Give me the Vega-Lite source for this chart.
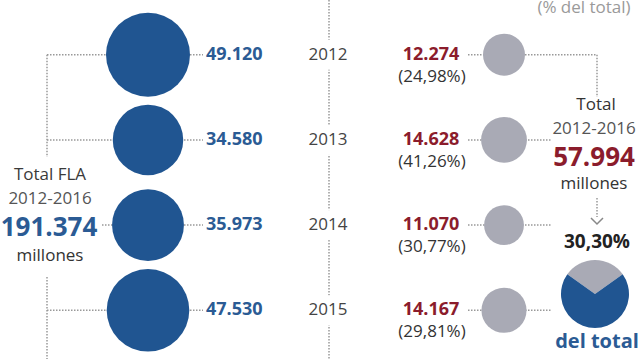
{
 "$schema": "https://vega.github.io/schema/vega-lite/v6.json",
 "width": 640, "height": 359, "padding": 0, "autosize": {"type": "none"},
 "background": "white",
 "config": {"view": {"stroke": null}, "axis": {"disable": true}, "legend": {"disable": true}, "text": {"font": "Open Sans"}},
 "data": {"values": [
  {"year": 2012, "fla": 49120, "parte": 12274, "pct": 24.98},
  {"year": 2013, "fla": 34580, "parte": 14628, "pct": 41.26},
  {"year": 2014, "fla": 35973, "parte": 11070, "pct": 30.77},
  {"year": 2015, "fla": 47530, "parte": 14167, "pct": 29.81}
 ]},
 "layer": [
  {"data": {"values": [{}]}, "mark": {"type": "rule", "color": "#999", "strokeWidth": 1.5, "strokeDash": [1.5, 1.5]},
   "encoding": {"x": {"datum": 329, "type": "quantitative", "scale": {"domain": [0, 640], "nice": false, "zero": false}},
    "y": {"datum": 2011.358, "type": "quantitative", "scale": {"domain": [2011.358, 2015.5716], "reverse": true, "nice": false, "zero": false}},
    "y2": {"datum": 2015.5716}}},
  {"mark": {"type": "point", "shape": "square", "filled": true, "color": "white", "opacity": 1, "size": 900},
   "encoding": {"x": {"datum": 329, "type": "quantitative", "scale": {"domain": [0, 640], "nice": false, "zero": false}},
    "y": {"field": "year", "type": "quantitative", "scale": {"domain": [2011.358, 2015.5716], "reverse": true, "nice": false, "zero": false}}}},
  {"mark": {"type": "text", "fontSize": 17, "color": "#444", "align": "center", "baseline": "middle"},
   "encoding": {"x": {"datum": 328, "type": "quantitative", "scale": {"domain": [0, 640], "nice": false, "zero": false}},
    "y": {"field": "year", "type": "quantitative", "scale": {"domain": [2011.358, 2015.5716], "reverse": true, "nice": false, "zero": false}},
    "text": {"field": "year", "type": "quantitative", "format": "d"}}},
  {"data": {"values": [{}]}, "mark": {"type": "rule", "color": "#999", "strokeWidth": 1.5, "strokeDash": [1.5, 1.5]},
   "encoding": {"x": {"datum": 47, "type": "quantitative", "scale": {"domain": [0, 640], "nice": false, "zero": false}},
    "y": {"datum": 2012, "type": "quantitative", "scale": {"domain": [2011.358, 2015.5716], "reverse": true, "nice": false, "zero": false}},
    "y2": {"datum": 2013.2007}}},
  {"data": {"values": [{}]}, "mark": {"type": "rule", "color": "#999", "strokeWidth": 1.5, "strokeDash": [1.5, 1.5]},
   "encoding": {"x": {"datum": 47, "type": "quantitative", "scale": {"domain": [0, 640], "nice": false, "zero": false}},
    "y": {"datum": 2014.6092, "type": "quantitative", "scale": {"domain": [2011.358, 2015.5716], "reverse": true, "nice": false, "zero": false}},
    "y2": {"datum": 2015.5716}}},
  {"transform": [{"filter": "datum.year != 2014"}], "mark": {"type": "rule", "color": "#999", "strokeWidth": 1.5, "strokeDash": [1.5, 1.5]},
   "encoding": {"x": {"datum": 47, "type": "quantitative", "scale": {"domain": [0, 640], "nice": false, "zero": false}}, "x2": {"datum": 148},
    "y": {"field": "year", "type": "quantitative", "scale": {"domain": [2011.358, 2015.5716], "reverse": true, "nice": false, "zero": false}}}},
  {"transform": [{"filter": "datum.year == 2014"}], "mark": {"type": "rule", "color": "#999", "strokeWidth": 1.5, "strokeDash": [1.5, 1.5]},
   "encoding": {"x": {"datum": 102, "type": "quantitative", "scale": {"domain": [0, 640], "nice": false, "zero": false}}, "x2": {"datum": 148},
    "y": {"field": "year", "type": "quantitative", "scale": {"domain": [2011.358, 2015.5716], "reverse": true, "nice": false, "zero": false}}}},
  {"mark": {"type": "rule", "color": "#999", "strokeWidth": 1.5, "strokeDash": [1.5, 1.5]},
   "encoding": {"x": {"datum": 148, "type": "quantitative", "scale": {"domain": [0, 640], "nice": false, "zero": false}}, "x2": {"datum": 203},
    "y": {"field": "year", "type": "quantitative", "scale": {"domain": [2011.358, 2015.5716], "reverse": true, "nice": false, "zero": false}}}},
  {"mark": {"type": "rule", "color": "#999", "strokeWidth": 1.5, "strokeDash": [1.5, 1.5]},
   "encoding": {"x": {"datum": 468, "type": "quantitative", "scale": {"domain": [0, 640], "nice": false, "zero": false}}, "x2": {"datum": 504},
    "y": {"field": "year", "type": "quantitative", "scale": {"domain": [2011.358, 2015.5716], "reverse": true, "nice": false, "zero": false}}}},
  {"transform": [{"filter": "datum.year == 2012"}], "mark": {"type": "rule", "color": "#999", "strokeWidth": 1.5, "strokeDash": [1.5, 1.5]},
   "encoding": {"x": {"datum": 504, "type": "quantitative", "scale": {"domain": [0, 640], "nice": false, "zero": false}}, "x2": {"datum": 597},
    "y": {"field": "year", "type": "quantitative", "scale": {"domain": [2011.358, 2015.5716], "reverse": true, "nice": false, "zero": false}}}},
  {"transform": [{"filter": "datum.year != 2012"}], "mark": {"type": "rule", "color": "#999", "strokeWidth": 1.5, "strokeDash": [1.5, 1.5]},
   "encoding": {"x": {"datum": 504, "type": "quantitative", "scale": {"domain": [0, 640], "nice": false, "zero": false}}, "x2": {"datum": 552},
    "y": {"field": "year", "type": "quantitative", "scale": {"domain": [2011.358, 2015.5716], "reverse": true, "nice": false, "zero": false}}}},
  {"data": {"values": [{}]}, "mark": {"type": "rule", "color": "#999", "strokeWidth": 1.5, "strokeDash": [1.5, 1.5]},
   "encoding": {"x": {"datum": 597, "type": "quantitative", "scale": {"domain": [0, 640], "nice": false, "zero": false}},
    "y": {"datum": 2012, "type": "quantitative", "scale": {"domain": [2011.358, 2015.5716], "reverse": true, "nice": false, "zero": false}},
    "y2": {"datum": 2012.4965}}},
  {"data": {"values": [{}]}, "mark": {"type": "rule", "color": "#999", "strokeWidth": 1.5, "strokeDash": [1.5, 1.5]},
   "encoding": {"x": {"datum": 597, "type": "quantitative", "scale": {"domain": [0, 640], "nice": false, "zero": false}},
    "y": {"datum": 2013.6819, "type": "quantitative", "scale": {"domain": [2011.358, 2015.5716], "reverse": true, "nice": false, "zero": false}},
    "y2": {"datum": 2013.9049}}},
  {"data": {"values": [{}]}, "mark": {"type": "point", "shape": "M-1,-0.5L0,0.5L1,-0.5", "filled": false, "color": "#888", "strokeWidth": 1.5, "size": 144, "opacity": 1},
   "encoding": {"x": {"datum": 597, "type": "quantitative", "scale": {"domain": [0, 640], "nice": false, "zero": false}},
    "y": {"datum": 2013.9519, "type": "quantitative", "scale": {"domain": [2011.358, 2015.5716], "reverse": true, "nice": false, "zero": false}}}},
  {"mark": {"type": "point", "filled": true, "color": "#205591", "opacity": 1},
   "encoding": {"x": {"datum": 148, "type": "quantitative", "scale": {"domain": [0, 640], "nice": false, "zero": false}},
    "y": {"field": "year", "type": "quantitative", "scale": {"domain": [2011.358, 2015.5716], "reverse": true, "nice": false, "zero": false}},
    "size": {"field": "fla", "type": "quantitative", "scale": {"domain": [0, 49120], "range": [0, 7056], "zero": true}, "legend": null}}},
  {"mark": {"type": "point", "filled": true, "color": "#a9aab5", "opacity": 1},
   "encoding": {"x": {"datum": 504, "type": "quantitative", "scale": {"domain": [0, 640], "nice": false, "zero": false}},
    "y": {"field": "year", "type": "quantitative", "scale": {"domain": [2011.358, 2015.5716], "reverse": true, "nice": false, "zero": false}},
    "size": {"field": "parte", "type": "quantitative", "scale": {"domain": [0, 49120], "range": [0, 7056], "zero": true}, "legend": null}}},
  {"transform": [{"calculate": "replace(format(datum.fla, ','), ',', '.')", "as": "flaLabel"}],
   "mark": {"type": "text", "fontSize": 18, "fontWeight": "bold", "color": "#2b5b94", "align": "left", "baseline": "middle"},
   "encoding": {"x": {"datum": 206, "type": "quantitative", "scale": {"domain": [0, 640], "nice": false, "zero": false}},
    "y": {"field": "year", "type": "quantitative", "scale": {"domain": [2011.358, 2015.5716], "reverse": true, "nice": false, "zero": false}},
    "text": {"field": "flaLabel", "type": "nominal"}}},
  {"transform": [{"calculate": "replace(format(datum.parte, ','), ',', '.')", "as": "parteLabel"}],
   "mark": {"type": "text", "fontSize": 18, "fontWeight": "bold", "color": "#8b1c2c", "align": "center", "baseline": "middle"},
   "encoding": {"x": {"datum": 431, "type": "quantitative", "scale": {"domain": [0, 640], "nice": false, "zero": false}},
    "y": {"field": "year", "type": "quantitative", "scale": {"domain": [2011.358, 2015.5716], "reverse": true, "nice": false, "zero": false}},
    "text": {"field": "parteLabel", "type": "nominal"}}},
  {"transform": [{"calculate": "'(' + replace(format(datum.pct, '.2f'), '.', ',') + '%)'", "as": "pctLabel"}],
   "mark": {"type": "text", "fontSize": 17, "color": "#333", "align": "center", "baseline": "middle", "dy": 22},
   "encoding": {"x": {"datum": 432, "type": "quantitative", "scale": {"domain": [0, 640], "nice": false, "zero": false}},
    "y": {"field": "year", "type": "quantitative", "scale": {"domain": [2011.358, 2015.5716], "reverse": true, "nice": false, "zero": false}},
    "text": {"field": "pctLabel", "type": "nominal"}}},
  {"data": {"values": [{}]}, "mark": {"type": "text", "text": "(% del total)", "fontSize": 17, "color": "#9a9a9a", "align": "center", "baseline": "middle"},
   "encoding": {"x": {"datum": 584, "type": "quantitative", "scale": {"domain": [0, 640], "nice": false, "zero": false}},
    "y": {"datum": 2011.4519, "type": "quantitative", "scale": {"domain": [2011.358, 2015.5716], "reverse": true, "nice": false, "zero": false}}}},
  {"data": {"values": [{}]}, "mark": {"type": "text", "text": "Total FLA", "fontSize": 17, "color": "#3a3a3a", "align": "center", "baseline": "middle"},
   "encoding": {"x": {"datum": 50, "type": "quantitative", "scale": {"domain": [0, 640], "nice": false, "zero": false}},
    "y": {"datum": 2013.412, "type": "quantitative", "scale": {"domain": [2011.358, 2015.5716], "reverse": true, "nice": false, "zero": false}}}},
  {"data": {"values": [{}]}, "mark": {"type": "text", "text": "2012-2016", "fontSize": 17, "color": "#555", "align": "center", "baseline": "middle"},
   "encoding": {"x": {"datum": 50, "type": "quantitative", "scale": {"domain": [0, 640], "nice": false, "zero": false}},
    "y": {"datum": 2013.6937, "type": "quantitative", "scale": {"domain": [2011.358, 2015.5716], "reverse": true, "nice": false, "zero": false}}}},
  {"data": {"values": [{}]}, "mark": {"type": "text", "text": "191.374", "fontSize": 26, "fontWeight": "bold", "color": "#2b5b94", "align": "center", "baseline": "middle"},
   "encoding": {"x": {"datum": 49, "type": "quantitative", "scale": {"domain": [0, 640], "nice": false, "zero": false}},
    "y": {"datum": 2014.0399, "type": "quantitative", "scale": {"domain": [2011.358, 2015.5716], "reverse": true, "nice": false, "zero": false}}}},
  {"data": {"values": [{}]}, "mark": {"type": "text", "text": "millones", "fontSize": 17, "color": "#333", "align": "center", "baseline": "middle"},
   "encoding": {"x": {"datum": 50, "type": "quantitative", "scale": {"domain": [0, 640], "nice": false, "zero": false}},
    "y": {"datum": 2014.3627, "type": "quantitative", "scale": {"domain": [2011.358, 2015.5716], "reverse": true, "nice": false, "zero": false}}}},
  {"data": {"values": [{}]}, "mark": {"type": "text", "text": "Total", "fontSize": 17, "color": "#333", "align": "center", "baseline": "middle"},
   "encoding": {"x": {"datum": 596, "type": "quantitative", "scale": {"domain": [0, 640], "nice": false, "zero": false}},
    "y": {"datum": 2012.5904, "type": "quantitative", "scale": {"domain": [2011.358, 2015.5716], "reverse": true, "nice": false, "zero": false}}}},
  {"data": {"values": [{}]}, "mark": {"type": "text", "text": "2012-2016", "fontSize": 17, "color": "#555", "align": "center", "baseline": "middle"},
   "encoding": {"x": {"datum": 594, "type": "quantitative", "scale": {"domain": [0, 640], "nice": false, "zero": false}},
    "y": {"datum": 2012.8779, "type": "quantitative", "scale": {"domain": [2011.358, 2015.5716], "reverse": true, "nice": false, "zero": false}}}},
  {"data": {"values": [{}]}, "mark": {"type": "text", "text": "57.994", "fontSize": 26, "fontWeight": "bold", "color": "#8b1c2c", "align": "center", "baseline": "middle"},
   "encoding": {"x": {"datum": 594, "type": "quantitative", "scale": {"domain": [0, 640], "nice": false, "zero": false}},
    "y": {"datum": 2013.2066, "type": "quantitative", "scale": {"domain": [2011.358, 2015.5716], "reverse": true, "nice": false, "zero": false}}}},
  {"data": {"values": [{}]}, "mark": {"type": "text", "text": "millones", "fontSize": 17, "color": "#333", "align": "center", "baseline": "middle"},
   "encoding": {"x": {"datum": 594, "type": "quantitative", "scale": {"domain": [0, 640], "nice": false, "zero": false}},
    "y": {"datum": 2013.5176, "type": "quantitative", "scale": {"domain": [2011.358, 2015.5716], "reverse": true, "nice": false, "zero": false}}}},
  {"data": {"values": [{}]}, "mark": {"type": "text", "text": "30,30%", "fontSize": 19, "fontWeight": "bold", "color": "#222", "align": "center", "baseline": "middle"},
   "encoding": {"x": {"datum": 597, "type": "quantitative", "scale": {"domain": [0, 640], "nice": false, "zero": false}},
    "y": {"datum": 2014.1984, "type": "quantitative", "scale": {"domain": [2011.358, 2015.5716], "reverse": true, "nice": false, "zero": false}}}},
  {"data": {"values": [{}]}, "mark": {"type": "text", "text": "del total", "fontSize": 20, "fontWeight": "bold", "color": "#2b5b94", "align": "center", "baseline": "middle"},
   "encoding": {"x": {"datum": 597, "type": "quantitative", "scale": {"domain": [0, 640], "nice": false, "zero": false}},
    "y": {"datum": 2015.3721, "type": "quantitative", "scale": {"domain": [2011.358, 2015.5716], "reverse": true, "nice": false, "zero": false}}}},
  {"data": {"values": [{"cat": "parte", "share": 30.30}, {"cat": "resto", "share": 69.70}]},
   "mark": {"type": "arc", "radius": 34},
   "encoding": {"x": {"datum": 595, "type": "quantitative", "scale": {"domain": [0, 640], "nice": false, "zero": false}},
    "y": {"datum": 2014.8087, "type": "quantitative", "scale": {"domain": [2011.358, 2015.5716], "reverse": true, "nice": false, "zero": false}},
    "theta": {"field": "share", "type": "quantitative", "stack": true, "scale": {"range": [-0.9519, 5.3313]}},
    "order": {"field": "share", "sort": "ascending"},
    "color": {"field": "cat", "type": "nominal", "scale": {"domain": ["parte", "resto"], "range": ["#a9aab5", "#205591"]}, "legend": null}}}
 ]
}
